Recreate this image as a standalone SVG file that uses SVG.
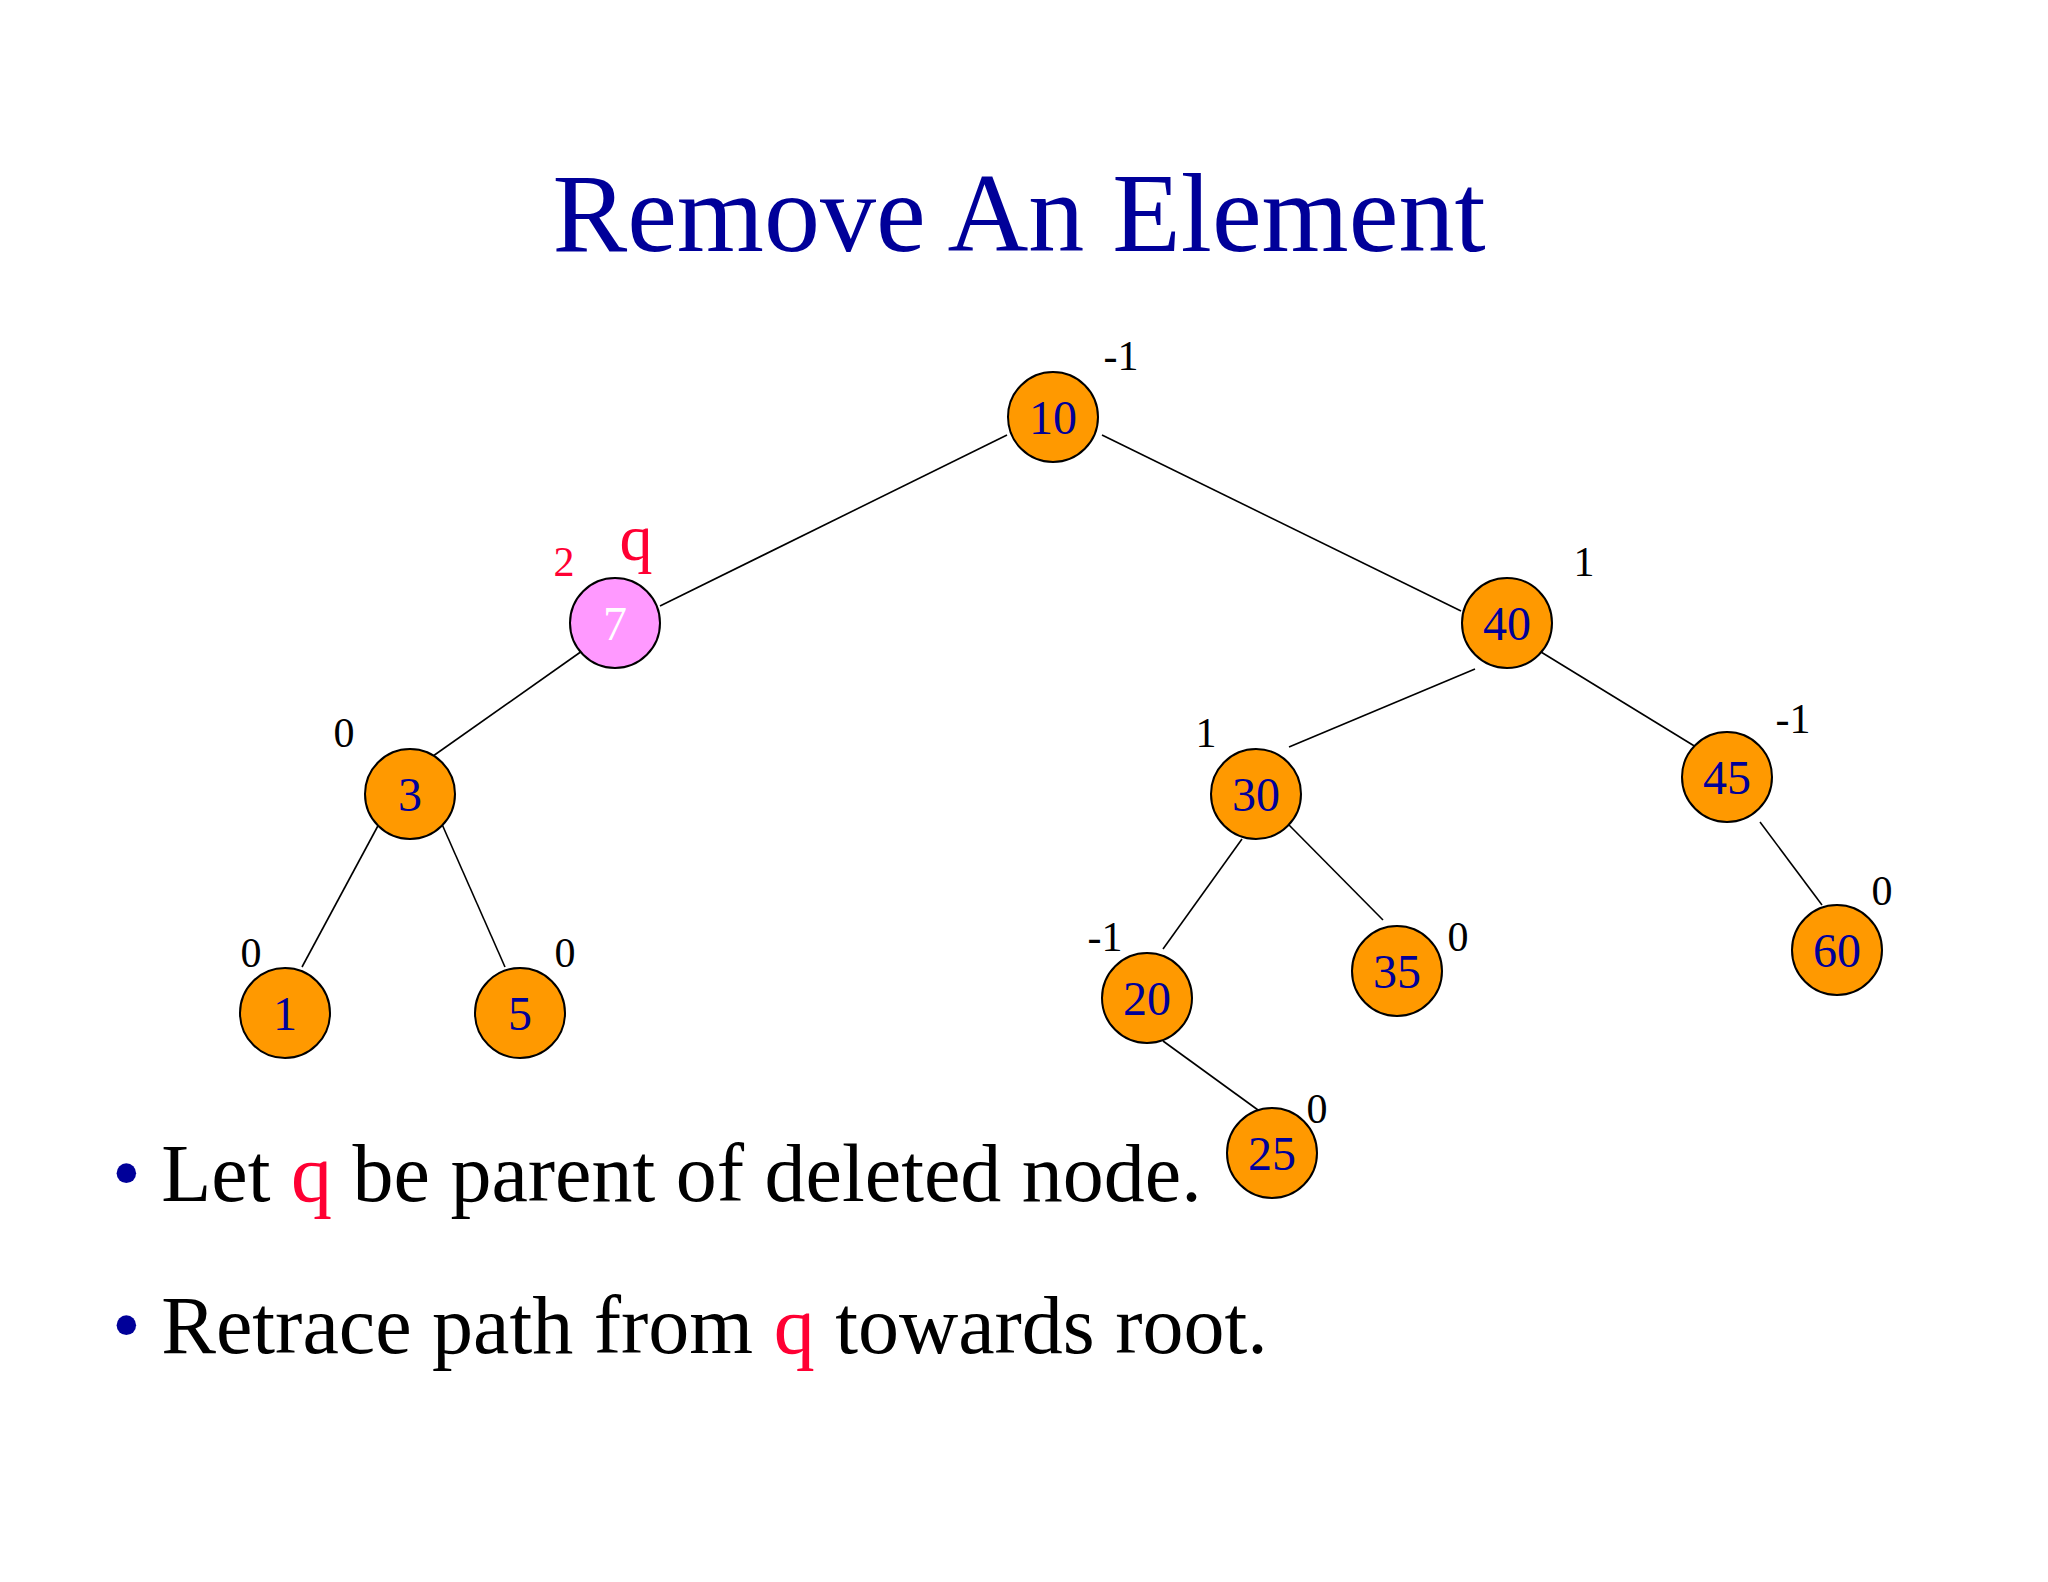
<svg xmlns="http://www.w3.org/2000/svg" width="2048" height="1582" viewBox="0 0 2048 1582">
<style>
.n{fill:#FF9900;stroke:#000;stroke-width:2}
.t{font-family:"Liberation Serif",serif;font-size:48px;fill:#000099;text-anchor:middle}
.b{font-family:"Liberation Serif",serif;font-size:42px;fill:#000;text-anchor:middle}
.e line{stroke:#000;stroke-width:1.6}
.big{font-family:"Liberation Serif",serif;font-size:82px;fill:#000}
.r{fill:#FF0033}
</style>
<rect width="2048" height="1582" fill="#fff"/>
<text x="1019" y="251" font-family="Liberation Serif,serif" font-size="112" fill="#000099" text-anchor="middle">Remove An Element</text>
<g id="edges" class="e">
<line x1="1007" y1="435" x2="660" y2="606"/>
<line x1="1102" y1="435" x2="1461" y2="611"/>
<line x1="582" y1="651" x2="426" y2="761"/>
<line x1="380" y1="822" x2="302" y2="967"/>
<line x1="441" y1="822" x2="505" y2="967"/>
<line x1="1475" y1="669" x2="1289" y2="747"/>
<line x1="1541" y1="652" x2="1696" y2="747"/>
<line x1="1242" y1="839" x2="1163" y2="949"/>
<line x1="1289" y1="825" x2="1383" y2="920"/>
<line x1="1760" y1="822" x2="1822" y2="905"/>
<line x1="1163" y1="1041" x2="1258" y2="1110"/>
</g>
<g id="n10"><circle class="n" cx="1053" cy="417" r="45"/><text class="t" x="1053" y="434">10</text><text class="b" x="1121" y="370">-1</text></g>
<g id="n7"><circle cx="615" cy="623" r="45" fill="#FF99FF" stroke="#000" stroke-width="2"/><text class="t" x="615" y="640" fill="#fff" style="fill:#fff">7</text><text class="b r" x="564" y="576">2</text><text x="636" y="560" font-family="Liberation Serif,serif" font-size="66" fill="#FF0033" text-anchor="middle">q</text></g>
<g id="n40"><circle class="n" cx="1507" cy="623" r="45"/><text class="t" x="1507" y="640">40</text><text class="b" x="1584" y="576">1</text></g>
<g id="n3"><circle class="n" cx="410" cy="794" r="45"/><text class="t" x="410" y="811">3</text><text class="b" x="344" y="747">0</text></g>
<g id="n30"><circle class="n" cx="1256" cy="794" r="45"/><text class="t" x="1256" y="811">30</text><text class="b" x="1206" y="747">1</text></g>
<g id="n45"><circle class="n" cx="1727" cy="777" r="45"/><text class="t" x="1727" y="794">45</text><text class="b" x="1793" y="733">-1</text></g>
<g id="n1"><circle class="n" cx="285" cy="1013" r="45"/><text class="t" x="285" y="1030">1</text><text class="b" x="251" y="967">0</text></g>
<g id="n5"><circle class="n" cx="520" cy="1013" r="45"/><text class="t" x="520" y="1030">5</text><text class="b" x="565" y="967">0</text></g>
<g id="n20"><circle class="n" cx="1147" cy="998" r="45"/><text class="t" x="1147" y="1015">20</text><text class="b" x="1105" y="951">-1</text></g>
<g id="n35"><circle class="n" cx="1397" cy="971" r="45"/><text class="t" x="1397" y="988">35</text><text class="b" x="1458" y="951">0</text></g>
<g id="n60"><circle class="n" cx="1837" cy="950" r="45"/><text class="t" x="1837" y="967">60</text><text class="b" x="1882" y="905">0</text></g>
<text class="big" x="112" y="1201"><tspan fill="#000099">•</tspan> Let  <tspan fill="#FF0033">q</tspan> be parent of deleted node.</text>
<g id="n25"><circle class="n" cx="1272" cy="1153" r="45"/><text class="t" x="1272" y="1170">25</text><text class="b" x="1317" y="1123">0</text></g>
<text class="big" x="112" y="1353"><tspan fill="#000099">•</tspan> Retrace path from <tspan fill="#FF0033">q</tspan> towards root.</text>
</svg>
